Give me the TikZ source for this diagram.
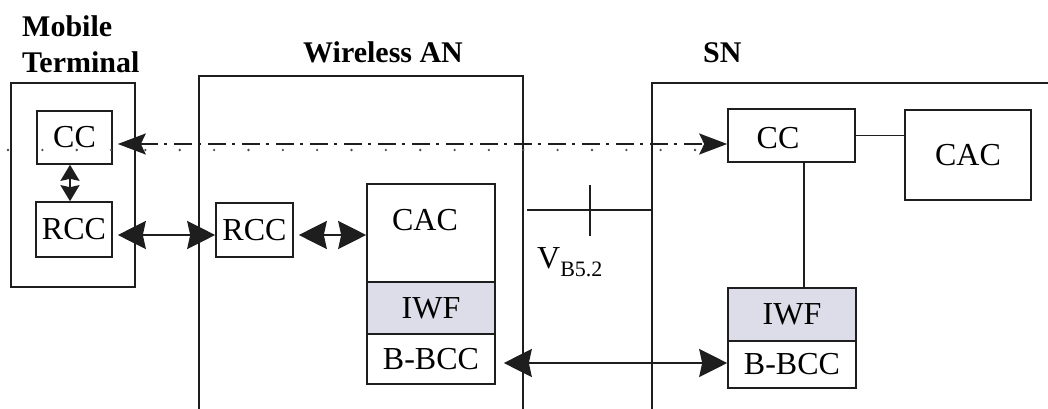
\documentclass[tikz,border=0pt]{standalone}
\usepackage{fontspec}
\setmainfont{Liberation Serif}
\usetikzlibrary{arrows.meta}
\definecolor{ink}{HTML}{1E1E1E}
\definecolor{iwffill}{HTML}{DCDDE8}
\begin{document}
\begin{tikzpicture}[x=1pt,y=-1pt,
  box/.style={draw=ink, line width=1.6pt, inner sep=0pt, font=\fontsize{32}{36}\selectfont},
  iwfbox/.style={box, fill=iwffill, line width=2.2pt},
  lbl/.style={inner sep=0pt, font=\fontsize{32}{36}\selectfont},
  title/.style={inner sep=0pt, anchor=base west, font=\fontsize{30}{34}\selectfont\bfseries},
  frame/.style={draw=ink, line width=1.6pt},
  bigarrow/.style={ink, line width=2.2pt, {Stealth[length=28pt,width=28pt,inset=3pt]}-{Stealth[length=28pt,width=28pt,inset=3pt]}},
  smallarrow/.style={ink, line width=2.2pt, {Stealth[length=16pt,width=19pt,inset=2pt]}-{Stealth[length=16pt,width=19pt,inset=2pt]}},
  dasharrow/.style={ink, line width=2.2pt, dash pattern=on 18pt off 6pt on 3pt off 7pt, {Stealth[length=28pt,width=21pt,inset=5pt]}-{Stealth[length=28pt,width=21pt,inset=5pt]}},
  plainline/.style={draw=ink, line width=1.8pt}]
\useasboundingbox (0,0) rectangle (1048,409);
\fill[white] (0,0) rectangle (1048,409);

% titles
\node[title] (tmob) at (22,37) {Mobile};
\node[title] (tterm) at (22,73) {Terminal};
\node[title] (tan) at (303,63) {Wireless AN};
\node[title] (tsn) at (703,63) {SN};

% frames
\node[frame, minimum width=124, minimum height=204, inner sep=0pt] (mtframe) at (73,185) {};
\draw[frame] (199,409) -- (199,76) -- (523,76) -- (523,409);
\draw[frame] (652,409) -- (652,83) -- (1048,83);

% mobile terminal
\node[box, minimum width=75, minimum height=53] (mtcc) at (74.5,137.5) {CC};
\node[box, minimum width=76, minimum height=55] (mtrcc) at (74,229.5) {RCC};

% wireless AN
\node[box, minimum width=77, minimum height=54] (anrcc) at (254.5,230) {RCC};
\node[box, minimum width=128, minimum height=98] (ancac) at (431,233) {};
\node[lbl] (ancaclbl) at (425,220) {CAC};
\node[iwfbox, minimum width=128, minimum height=52] (aniwf) at (431,308) {IWF};
\node[box, minimum width=128, minimum height=50] (anbbcc) at (431,359) {B-BCC};

% SN
\node[box, minimum width=127, minimum height=53] (sncc) at (791.5,135.5) {};
\node[lbl] (snccl) at (778,138) {CC};
\node[box, minimum width=126, minimum height=90] (sncac) at (968,155) {CAC};
\node[iwfbox, minimum width=128, minimum height=53] (sniwf) at (792,314.5) {IWF};
\node[box, minimum width=128, minimum height=47] (snbbcc) at (792,364.5) {B-BCC};

% reference point V_B5.2
\coordinate (vl) at (527,210);
\coordinate (vr) at (652,210);
\coordinate (tickt) at (590,185);
\coordinate (tickb) at (590,236);
\draw[plainline] (vl) -- (vr);
\draw[plainline] (tickt) -- (tickb);
\node[inner sep=0pt, anchor=base west, font=\fontsize{32}{36}\selectfont] (vlabel) at (537,268) {V\raisebox{-8pt}{\fontsize{22}{24}\selectfont B5.2}};

% connectors
\coordinate (ya) at (0,235);
\coordinate (yb) at (0,363);
\coordinate (yc) at (0,144);
\coordinate (vx) at (804,0);
\coordinate (mtv) at (70,0);
\draw[smallarrow] (mtcc.south -| mtv) -- (mtrcc.north -| mtv);
\draw[bigarrow, shorten <=5pt] (mtrcc.east |- ya) -- (anrcc.west |- ya);
\draw[bigarrow, shorten <=5pt] (anrcc.east |- ya) -- (ancac.west |- ya);
\draw[bigarrow, shorten <=8pt] (anbbcc.east |- yb) -- (snbbcc.west |- yb);
\draw[dasharrow, shorten <=5pt] (mtcc.east |- yc) -- (sncc.west |- yc);
\draw[plainline] (sncc.east) -- (sncac.west |- sncc.east);
\draw[plainline] (sncc.south -| vx) -- (sniwf.north -| vx);

% faint dot row along the signalling line
\foreach \i in {0,...,20} \fill[ink!80] (8+34.35*\i,150) circle (1.3);
\end{tikzpicture}
\end{document}
